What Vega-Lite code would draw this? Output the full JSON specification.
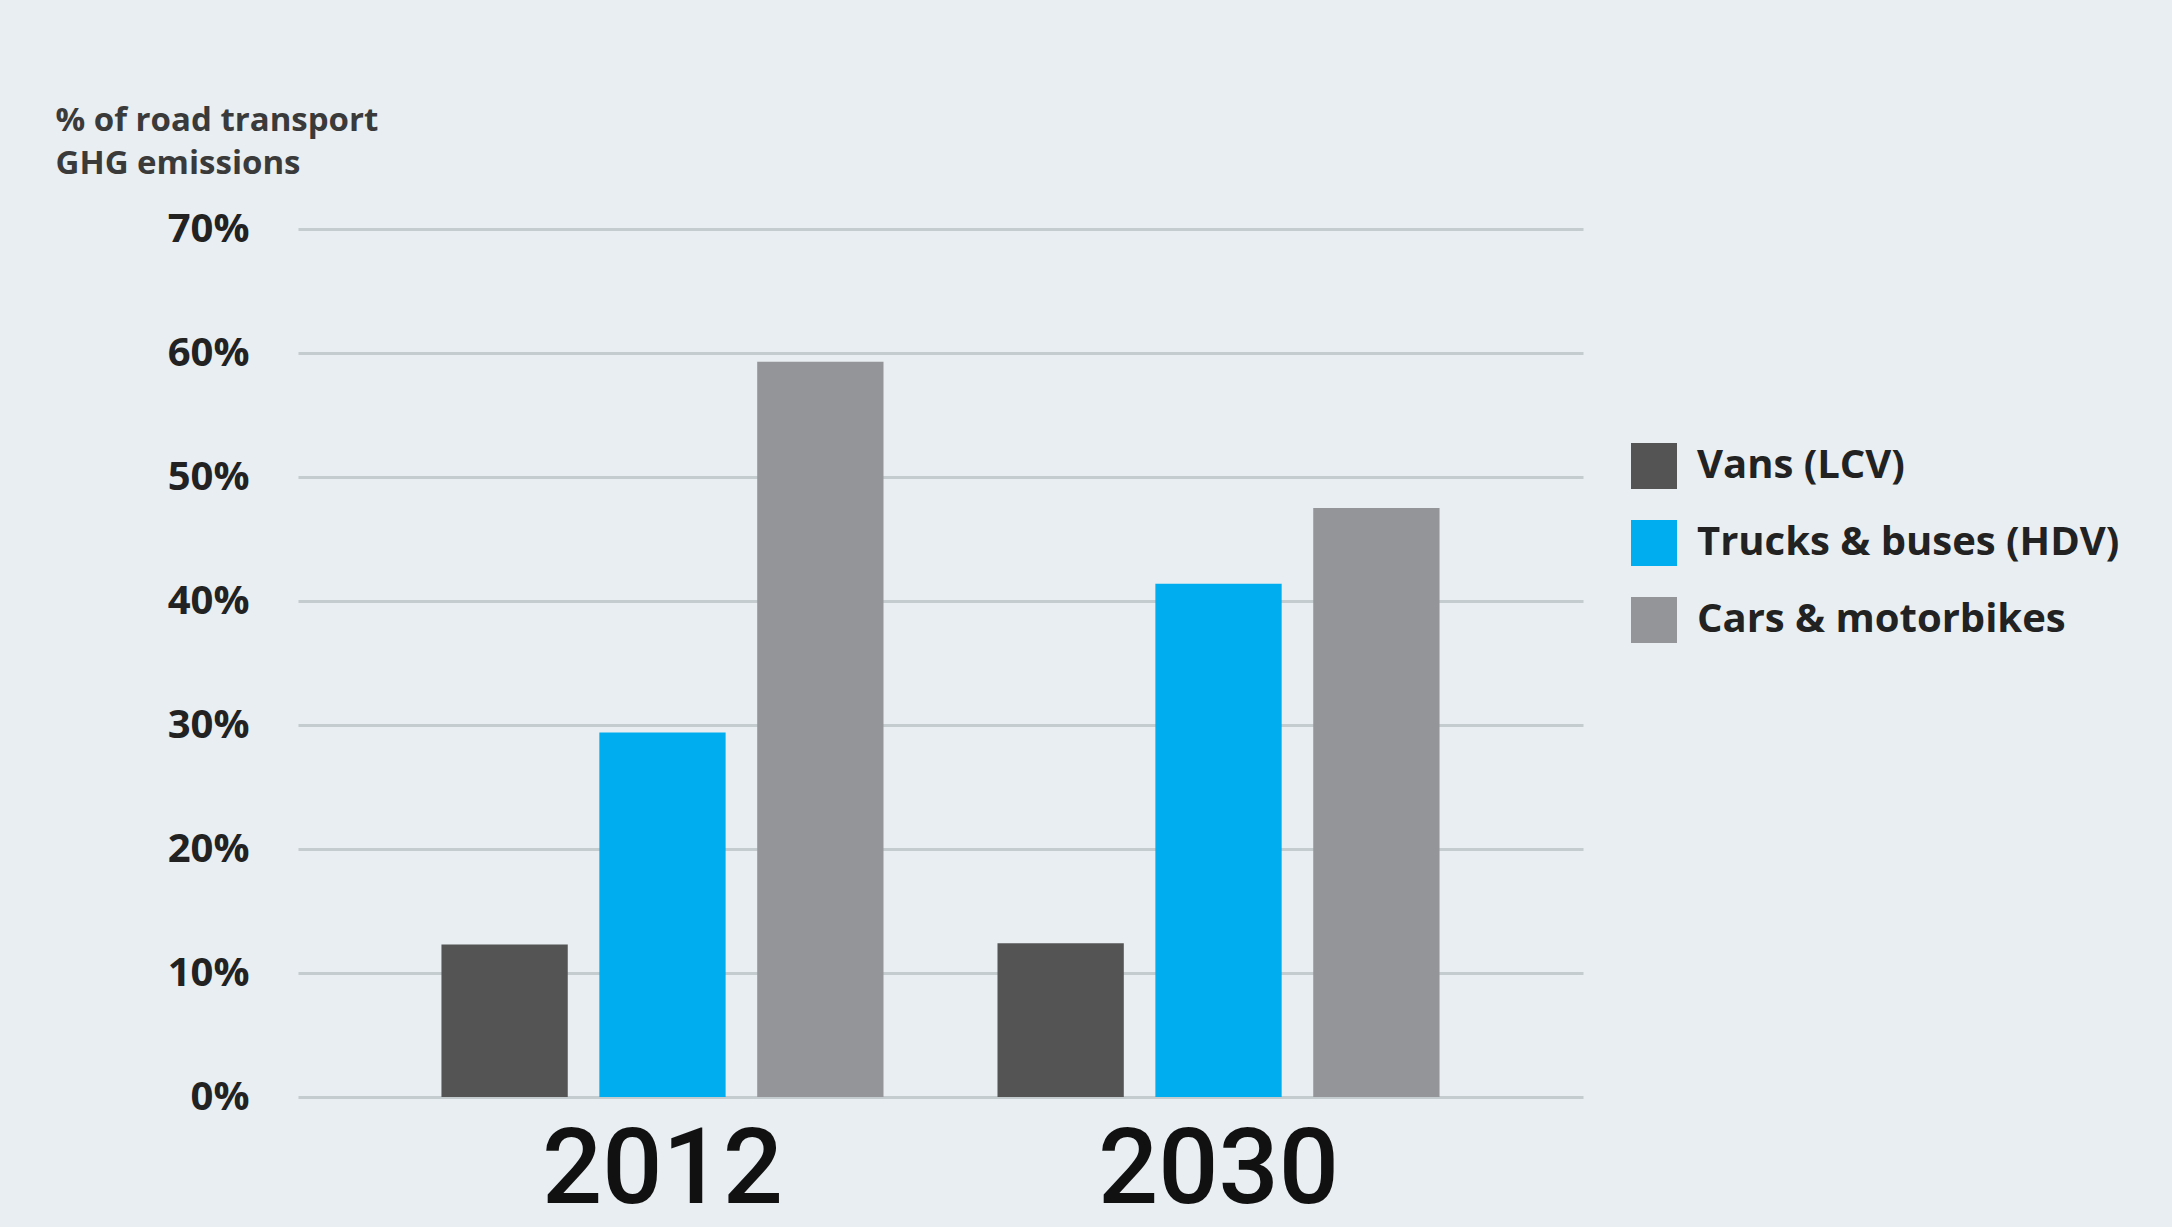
{
  "$schema": "https://vega.github.io/schema/vega-lite/v6.json",
  "autosize": "none",
  "width": 1285,
  "height": 868,
  "padding": {"left": 298, "top": 229, "right": 589, "bottom": 130},
  "background": "#e8eef1",
  "config": {
    "view": {"stroke": null},
    "font": "Open Sans"
  },
  "data": {
    "values": [
      {"year": "2012", "type": "Vans (LCV)", "share": 12.3},
      {"year": "2012", "type": "Trucks & buses (HDV)", "share": 29.4},
      {"year": "2012", "type": "Cars & motorbikes", "share": 59.3},
      {"year": "2030", "type": "Vans (LCV)", "share": 12.4},
      {"year": "2030", "type": "Trucks & buses (HDV)", "share": 41.4},
      {"year": "2030", "type": "Cars & motorbikes", "share": 47.5}
    ]
  },
  "mark": {"type": "bar"},
  "encoding": {
    "x": {
      "field": "year",
      "type": "nominal",
      "scale": {"paddingInner": 0.205, "paddingOuter": 0.258},
      "axis": {
        "title": null,
        "labelAngle": 0,
        "labelFont": "Roboto",
        "labelFontWeight": 500,
        "labelFontSize": 106,
        "labelColor": "#111111",
        "labelPadding": 21,
        "labelLimit": 0,
        "ticks": false,
        "domain": false
      }
    },
    "xOffset": {
      "field": "type",
      "type": "nominal",
      "sort": ["Vans (LCV)", "Trucks & buses (HDV)", "Cars & motorbikes"],
      "scale": {"paddingInner": 0.2, "paddingOuter": 0}
    },
    "y": {
      "field": "share",
      "type": "quantitative",
      "scale": {"domain": [0, 70], "nice": false},
      "axis": {
        "values": [0, 10, 20, 30, 40, 50, 60, 70],
        "labelExpr": "datum.value + '%'",
        "labelFont": "Open Sans",
        "labelFontWeight": "bold",
        "labelFontSize": 40,
        "labelColor": "#222222",
        "labelPadding": 49,
        "ticks": false,
        "domain": false,
        "grid": true,
        "gridColor": "#c4ccd0",
        "gridWidth": 3,
        "title": ["% of road transport", "GHG emissions"],
        "titleAngle": 0,
        "titleAlign": "left",
        "titleBaseline": "alphabetic",
        "titleX": -243,
        "titleY": -99,
        "titleFont": "Open Sans",
        "titleFontWeight": "bold",
        "titleFontSize": 33,
        "titleLineHeight": 43,
        "titleColor": "#3a3a3a"
      }
    },
    "color": {
      "field": "type",
      "type": "nominal",
      "sort": ["Vans (LCV)", "Trucks & buses (HDV)", "Cars & motorbikes"],
      "scale": {
        "domain": ["Vans (LCV)", "Trucks & buses (HDV)", "Cars & motorbikes"],
        "range": ["#545454", "#00aeef", "#939598"]
      },
      "legend": {
        "title": null,
        "orient": "none",
        "legendX": 1333,
        "legendY": 214,
        "symbolType": "square",
        "symbolSize": 2116,
        "symbolStrokeWidth": 0,
        "symbolOpacity": 1,
        "labelFont": "Open Sans",
        "labelFontWeight": "bold",
        "labelFontSize": 40,
        "labelColor": "#222222",
        "labelOffset": 20,
        "rowPadding": 31,
        "labelLimit": 0
      }
    }
  }
}
